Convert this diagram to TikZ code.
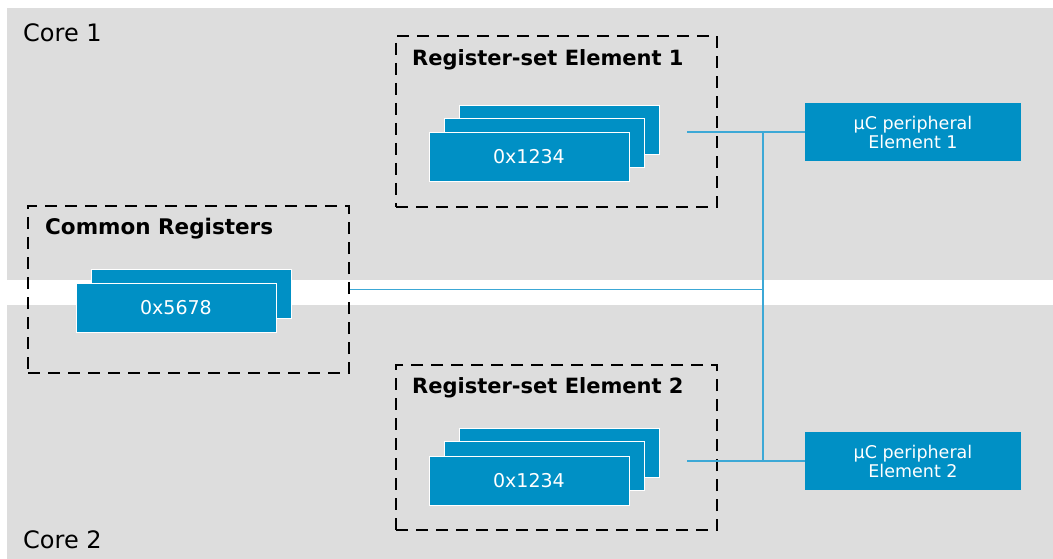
\documentclass[tikz,border=0pt]{standalone}
\usepackage{fontspec}
\setmainfont{DejaVu Sans}
\usepackage{xcolor}
\usetikzlibrary{positioning}

\definecolor{coregray}{RGB}{221,221,221}
\definecolor{regblue}{RGB}{0,144,197}
\definecolor{buslink}{RGB}{60,168,214}

\tikzset{
    regcard/.style={rectangle, fill=regblue, draw=white, line width=0.9pt, minimum width=200, minimum height=49, inner sep=0pt, text=white, font=\fontsize{19}{22}\selectfont},
    groupbox/.style={rectangle, draw=black, line width=2.4pt, dash pattern=on 12pt off 8pt, minimum width=321, inner sep=0pt},
    grouptitle/.style={anchor=west, inner sep=0pt, font=\bfseries\fontsize{21}{25}\selectfont},
    periph/.style={rectangle, fill=regblue, minimum width=216, minimum height=58, inner sep=0pt, text=white, align=center, font=\fontsize{17.5}{19}\selectfont},
    corelabel/.style={anchor=west, inner sep=0pt, font=\fontsize{24}{28}\selectfont},
    link/.style={draw=buslink, line width=1.4pt}
}

\begin{document}
\begin{tikzpicture}[x=1pt, y=-1pt]
    \useasboundingbox (0,0) rectangle (1053,559);
    \fill[coregray] (7,8) rectangle (1053,280);
    \fill[coregray] (7,305) rectangle (1053,559);

    \node[corelabel] (core1) at (23,33) {Core 1};
    \node[corelabel] (core2) at (23,540) {Core 2};

    % register-set element 1
    \node[groupbox, minimum height=171] (rs1) at (556.5,121.5) {};
    \node[grouptitle] (rs1title) at (412,60) {Register-set Element 1};
    \node[regcard] (rs1c) at (559,129.5) {};
    \node[regcard] (rs1b) at (544,142.5) {};
    \node[regcard] (rs1a) at (529,156.5) {0x1234};

    % register-set element 2
    \node[groupbox, minimum height=165] (rs2) at (556.5,447.5) {};
    \node[grouptitle] (rs2title) at (412,388) {Register-set Element 2};
    \node[regcard] (rs2c) at (559,453) {};
    \node[regcard] (rs2b) at (544,466) {};
    \node[regcard] (rs2a) at (529,480.5) {0x1234};

    % common registers
    \node[groupbox, minimum height=167] (common) at (188.5,289.5) {};
    \node[grouptitle, font=\bfseries\fontsize{21.5}{25}\selectfont] (commontitle) at (45,229) {Common Registers};
    \node[regcard] (cmb) at (191,294) {};
    \node[regcard] (cma) at (176,307.5) {0x5678};

    % peripherals
    \node[periph] (per1) at (913,132) {µC peripheral\\Element 1};
    \node[periph] (per2) at (913,461) {µC peripheral\\Element 2};

    \coordinate (rs1out) at (687,132);
    \coordinate (rs2out) at (687,461);
    \coordinate (bustop) at (763,132);
    \coordinate (busbot) at (763,461);

    \draw[link] (rs1out) -- (per1.west);
    \draw[link] (rs2out) -- (per2.west);
    \draw[link] (bustop) -- (busbot);
    \draw[link] (common.east) -- (common.east -| bustop);
\end{tikzpicture}
\end{document}
